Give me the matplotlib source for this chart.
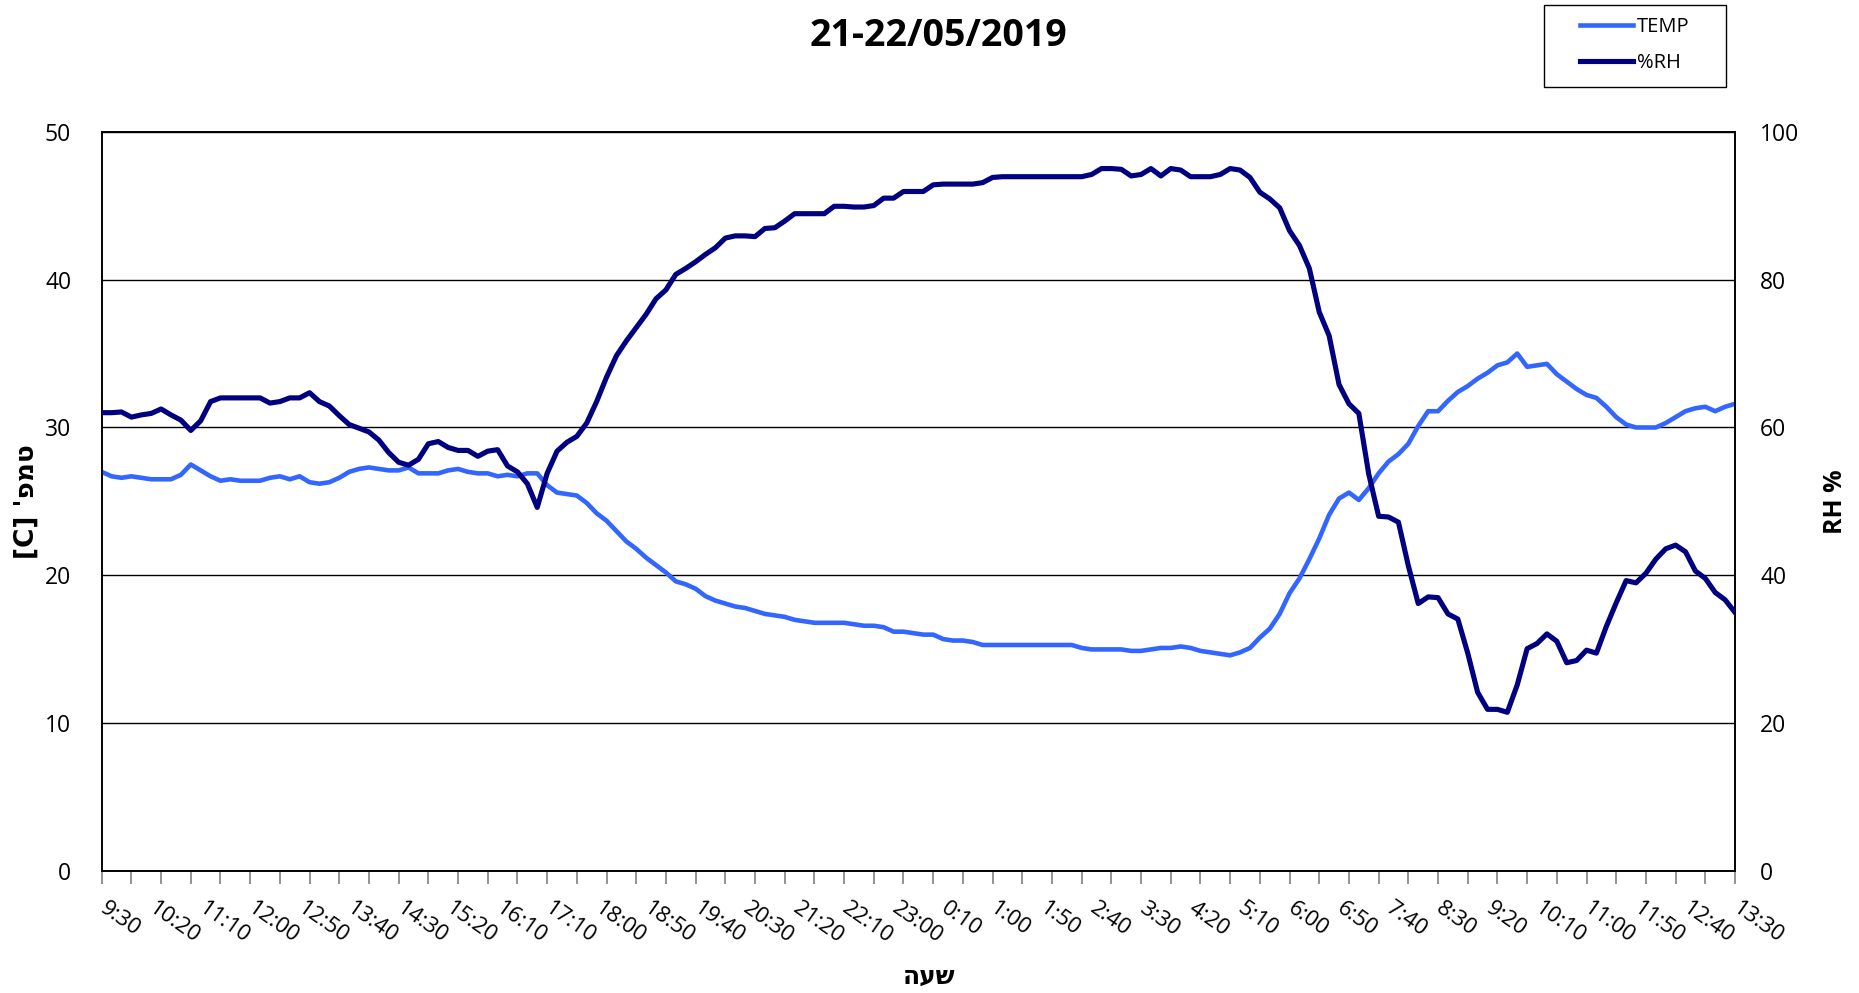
import matplotlib
matplotlib.use("Agg")
import matplotlib.pyplot as plt
import matplotlib.transforms as mtransforms
from matplotlib.patches import Rectangle
import numpy as np

plt.rcParams['font.family'] = ['Open Sans', 'DejaVu Sans']

# readings every 10 min, 21/05 9:30 .. 22/05 13:30
tick_labels = ["9:30", "10:20", "11:10", "12:00", "12:50", "13:40", "14:30", "15:20",
               "16:10", "17:10", "18:00", "18:50", "19:40", "20:30", "21:20", "22:10",
               "23:00", "0:10", "1:00", "1:50", "2:40", "3:30", "4:20", "5:10", "6:00",
               "6:50", "7:40", "8:30", "9:20", "10:10", "11:00", "11:50", "12:40", "13:30"]

temp = [27.0, 26.7, 26.6, 26.7, 26.6, 26.5, 26.5, 26.5, 26.8, 27.5,
        27.1, 26.7, 26.4, 26.5, 26.4, 26.4, 26.4, 26.6, 26.7, 26.5,
        26.7, 26.3, 26.2, 26.3, 26.6, 27.0, 27.2, 27.3, 27.2, 27.1,
        27.1, 27.3, 26.9, 26.9, 26.9, 27.1, 27.2, 27.0, 26.9, 26.9,
        26.7, 26.8, 26.7, 26.9, 26.9, 26.1, 25.6, 25.5, 25.4, 24.9,
        24.2, 23.7, 23.0, 22.3, 21.8, 21.2, 20.7, 20.2, 19.6, 19.4,
        19.1, 18.6, 18.3, 18.1, 17.9, 17.8, 17.6, 17.4, 17.3, 17.2,
        17.0, 16.9, 16.8, 16.8, 16.8, 16.8, 16.7, 16.6, 16.6, 16.5,
        16.2, 16.2, 16.1, 16.0, 16.0, 15.7, 15.6, 15.6, 15.5, 15.3,
        15.3, 15.3, 15.3, 15.3, 15.3, 15.3, 15.3, 15.3, 15.3, 15.1,
        15.0, 15.0, 15.0, 15.0, 14.9, 14.9, 15.0, 15.1, 15.1, 15.2,
        15.1, 14.9, 14.8, 14.7, 14.6, 14.8, 15.1, 15.8, 16.4, 17.4,
        18.8, 19.8, 21.1, 22.5, 24.1, 25.2, 25.6, 25.1, 25.9, 26.9,
        27.7, 28.2, 28.9, 30.1, 31.1, 31.1, 31.8, 32.4, 32.8, 33.3,
        33.7, 34.2, 34.4, 35.0, 34.1, 34.2, 34.3, 33.6, 33.1, 32.6,
        32.2, 32.0, 31.4, 30.7, 30.2, 30.0, 30.0, 30.0, 30.3, 30.7,
        31.1, 31.3, 31.4, 31.1, 31.4, 31.6]

rh = [62.0, 62.0, 62.1, 61.4, 61.7, 61.9, 62.5, 61.7, 61.0, 59.6,
      60.9, 63.5, 64.0, 64.0, 64.0, 64.0, 64.0, 63.3, 63.5, 64.0,
      64.0, 64.7, 63.5, 62.9, 61.6, 60.4, 59.9, 59.4, 58.3, 56.6,
      55.3, 54.9, 55.7, 57.8, 58.1, 57.3, 56.9, 56.9, 56.1, 56.8,
      57.0, 54.8, 54.0, 52.4, 49.2, 53.8, 56.8, 58.0, 58.8, 60.6,
      63.5, 66.8, 69.7, 71.7, 73.5, 75.3, 77.4, 78.6, 80.7, 81.5,
      82.4, 83.4, 84.3, 85.6, 85.9, 85.9, 85.8, 86.9, 87.0, 87.9,
      88.9, 88.9, 88.9, 88.9, 89.9, 89.9, 89.8, 89.8, 90.0, 91.0,
      91.0, 91.9, 91.9, 91.9, 92.8, 92.9, 92.9, 92.9, 92.9, 93.1,
      93.8, 93.9, 93.9, 93.9, 93.9, 93.9, 93.9, 93.9, 93.9, 93.9,
      94.2, 95.0, 95.0, 94.9, 94.0, 94.2, 95.0, 94.0, 95.0, 94.8,
      93.9, 93.9, 93.9, 94.2, 95.0, 94.8, 93.8, 91.8, 90.9, 89.7,
      86.6, 84.6, 81.5, 75.6, 72.4, 65.8, 63.2, 61.9, 53.7, 48.0,
      47.9, 47.2, 41.3, 36.2, 37.1, 37.0, 34.8, 34.1, 29.5, 24.2,
      21.9, 21.9, 21.5, 25.2, 30.1, 30.8, 32.1, 31.1, 28.2, 28.5,
      29.9, 29.5, 33.1, 36.3, 39.3, 39.0, 40.3, 42.2, 43.6, 44.1,
      43.2, 40.6, 39.6, 37.7, 36.7, 35.0]

x = np.arange(len(temp))

fig = plt.figure(figsize=(18.59, 9.93), dpi=100)
ax = fig.add_axes([0.0547, 0.1225, 0.8786, 0.745])
ax2 = ax.twinx()

l1, = ax.plot(x, temp, color="#3366FF", lw=3.3, solid_joinstyle="round", zorder=3)
l2, = ax2.plot(x, rh, color="#000080", lw=3.7, solid_joinstyle="round", zorder=3)

ax.set_xlim(0, len(x) - 1)
ax.set_ylim(0, 50)
ax2.set_ylim(0, 100)
ax.set_yticks(np.arange(0, 51, 10))
ax2.set_yticks(np.arange(0, 101, 20))
ax.yaxis.grid(True, color="black", lw=1.0)
ax.set_axisbelow(True)

ax.set_xticks(x[::5])
ax.set_xticklabels(tick_labels, rotation=-35, ha="left", va="center",
                   rotation_mode="anchor", fontsize=16)
shift = mtransforms.ScaledTranslation(5 / 72, 0, fig.dpi_scale_trans)
for lab in ax.get_xticklabels():
    lab.set_transform(lab.get_transform() + shift)
ax.set_xticks(x[::3], minor=True)
ax.xaxis.remove_overlapping_locs = False
ax.tick_params(axis="x", which="major", length=0, pad=25)
ax.tick_params(axis="x", which="minor", length=9, width=1.2, color="#808080")
ax.tick_params(axis="y", length=0, pad=22, labelsize=16.5)
ax2.tick_params(axis="y", length=0, pad=18, labelsize=16.5)

for a in (ax, ax2):
    for s in a.spines.values():
        s.set_color("black")
        s.set_linewidth(1.2)

ax.set_ylabel("[C] '" + "טמפ"[::-1], fontsize=19, fontweight="bold",
              family=["DejaVu Sans"])
ax.yaxis.set_label_coords(-0.038, 0.5)
ax2.set_ylabel("RH %", fontsize=18, fontweight="bold")
ax2.yaxis.set_label_coords(1.054, 0.5)

fig.text(0.5, 0.016, "שעה"[::-1], ha="center", va="center", fontsize=18,
         fontweight="bold", family=["DejaVu Sans"])
fig.text(0.505, 0.964, "21-22/05/2019", ha="center", va="center", fontsize=27,
         fontweight="bold")

# legend box drawn separately: it is wider than the legend's own padding allows
fig.patches.append(Rectangle((0.8306, 0.912), 0.0979, 0.083, transform=fig.transFigure,
                             fill=False, ec="black", lw=1.0))
fig.legend([l1, l2], ["TEMP", "%RH"], loc="center left",
           bbox_to_anchor=(0.85, 0.955), fontsize=14.5, frameon=False,
           handlelength=2.6, labelspacing=0.8, borderpad=0, borderaxespad=0,
           handletextpad=0.2)

fig.savefig("out.png", dpi=100)
